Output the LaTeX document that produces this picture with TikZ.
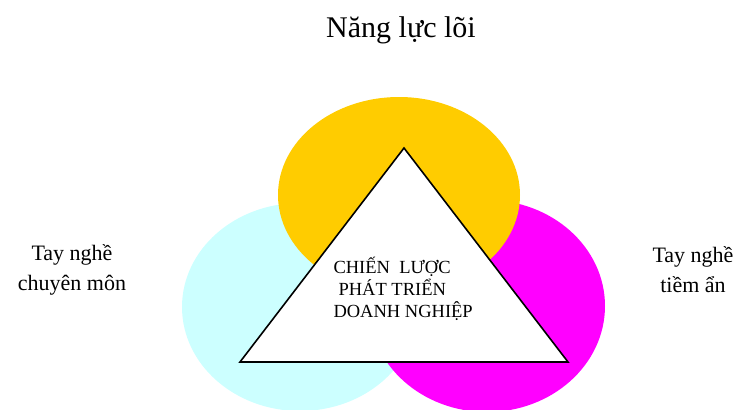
\documentclass[tikz,border=0pt]{standalone}
\usepackage{fontspec}
\setmainfont{Liberation Serif}
\usetikzlibrary{shapes.geometric}
\definecolor{coreyellow}{HTML}{FFCC00}
\definecolor{skillcyan}{HTML}{CCFFFF}
\definecolor{hiddenmag}{HTML}{FF00FF}

\begin{document}
\begin{tikzpicture}[x=1pt, y=-1pt,
  blob/.style={ellipse, inner sep=0pt},
  sidetext/.style={font=\fontsize{22}{30}\selectfont, align=center},
  midtext/.style={font=\fontsize{18.5}{22}\selectfont, align=left}
]
\useasboundingbox (0,0) rectangle (740,410);
\clip (0,0) rectangle (740,410);
% three circles
\node[blob, fill=skillcyan, minimum width=236pt, minimum height=208pt] (chuyenmon) at (300,307) {};
\node[blob, fill=hiddenmag, minimum width=236pt, minimum height=212pt] (tiemanc) at (487,306) {};
\node[blob, fill=coreyellow, minimum width=242pt, minimum height=196pt] (loi) at (399,195) {};
% triangle
\coordinate (top) at (404,148);
\coordinate (bl) at (240,362);
\coordinate (br) at (568,362);
\draw[fill=white, line width=1.6pt] (top) -- (br) -- (bl) -- cycle;
\node[midtext, anchor=north west] (chienluoc) at (330,254) {CHIẾN\ \ LƯỢC\\\hspace{5pt}PHÁT TRIỂN\\DOANH NGHIỆP};
% labels
\node[font=\fontsize{30}{34}\selectfont] (nangluc) at (401,30) {Năng lực lõi};
\node[sidetext] (left) at (72,270) {Tay nghề\\chuyên môn};
\node[sidetext] (right) at (693,270) {Tay nghề\\tiềm ẩn};
\end{tikzpicture}
\end{document}
